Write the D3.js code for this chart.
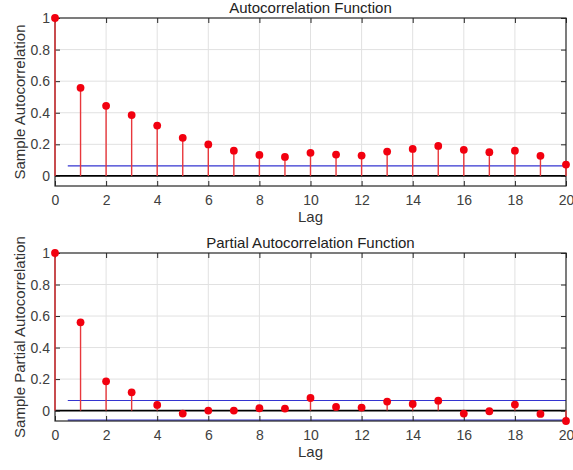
<!DOCTYPE html>
<html>
<head>
<meta charset="utf-8">
<script src="https://cdn.jsdelivr.net/npm/d3@7.9.0/dist/d3.min.js"></script>
<style>
  html, body { margin: 0; padding: 0; background: #fff; }
  svg { display: block; font-family: "Liberation Sans", Arial, sans-serif; }
</style>
</head>
<body>
<svg id="chart" width="573" height="470"></svg>
<script>
// data
const lags = d3.range(0, 21);
const acfValues = [1, 0.558, 0.444, 0.385, 0.319, 0.241, 0.199, 0.160, 0.133, 0.120,
  0.146, 0.135, 0.129, 0.154, 0.171, 0.190, 0.165, 0.150, 0.160, 0.127, 0.072];
const pacfValues = [1, 0.560, 0.186, 0.116, 0.036, -0.019, 0.000, 0.000, 0.015, 0.013,
  0.080, 0.023, 0.019, 0.057, 0.042, 0.063, -0.019, -0.004, 0.038, -0.021, -0.066];
const confBound = 0.064;
const xTicks = [0, 2, 4, 6, 8, 10, 12, 14, 16, 18, 20];
const yTicks = [0, 0.2, 0.4, 0.6, 0.8, 1];
const yTickLabels = ['0', '0.2', '0.4', '0.6', '0.8', '1'];

const svg = d3.select('#chart');

// draw one MATLAB-style stem panel
function drawPanel(values, opts) {
  const left = 55, right = 566;
  const yMin = Math.min(-confBound, d3.min(values));
  const x = d3.scaleLinear().domain([0, 20]).range([left, right]);
  const y = d3.scaleLinear().domain([yMin, 1]).range([opts.bottom, opts.top]);
  const g = svg.append('g');

  // grid
  g.selectAll('.gx').data(xTicks.slice(1, -1)).join('line')
    .attr('x1', d => x(d)).attr('x2', d => x(d))
    .attr('y1', opts.top).attr('y2', opts.bottom)
    .attr('stroke', '#e1e1e1').attr('stroke-width', 1);
  g.selectAll('.gy').data(yTicks.slice(1, -1)).join('line')
    .attr('x1', left).attr('x2', right)
    .attr('y1', d => y(d)).attr('y2', d => y(d))
    .attr('stroke', '#e1e1e1').attr('stroke-width', 1);

  // confidence bounds
  g.append('line')
    .attr('x1', x(0.5)).attr('x2', x(20))
    .attr('y1', y(confBound)).attr('y2', y(confBound))
    .attr('stroke', '#3434d0').attr('stroke-width', 1.2);
  if (opts.showLower) {
    g.append('line')
      .attr('x1', x(0.5)).attr('x2', x(20))
      .attr('y1', y(-confBound) - 0.6).attr('y2', y(-confBound) - 0.6)
      .attr('stroke', '#3434d0').attr('stroke-width', 1.4);
  }

  // zero line
  g.append('line')
    .attr('x1', left).attr('x2', right)
    .attr('y1', y(0)).attr('y2', y(0))
    .attr('stroke', '#000').attr('stroke-width', 1.8);

  // box + ticks
  const axisColor = '#262626';
  g.append('rect')
    .attr('x', left).attr('y', opts.top)
    .attr('width', right - left).attr('height', opts.bottom - opts.top)
    .attr('fill', 'none').attr('stroke', axisColor).attr('stroke-width', 1.2);

  const xAxisB = d3.axisBottom(x).tickValues(xTicks).tickSizeInner(-5).tickSizeOuter(0).tickPadding(9);
  const xAxisT = d3.axisTop(x).tickValues(xTicks).tickSizeInner(-5).tickSizeOuter(0).tickFormat('');
  const yAxisL = d3.axisLeft(y).tickValues(yTicks).tickSizeInner(-5).tickSizeOuter(0).tickPadding(5)
    .tickFormat((d, i) => yTickLabels[i]);
  const yAxisR = d3.axisRight(y).tickValues(yTicks).tickSizeInner(-5).tickSizeOuter(0).tickFormat('');

  [[xAxisB, `translate(0,${opts.bottom})`], [xAxisT, `translate(0,${opts.top})`],
   [yAxisL, `translate(${left},0)`], [yAxisR, `translate(${right},0)`]].forEach(([ax, tr]) => {
    const a = g.append('g').attr('transform', tr).call(ax);
    a.select('.domain').remove();
    a.selectAll('line').attr('stroke', axisColor);
    a.selectAll('text').attr('fill', '#404040').style('font-size', '14px')
      .style('font-family', '"Liberation Sans", Arial, sans-serif');
  });

  // stems and markers
  g.selectAll('.stem').data(lags).join('line')
    .attr('x1', d => x(d)).attr('x2', d => x(d))
    .attr('y1', y(0)).attr('y2', d => y(values[d]))
    .attr('stroke', '#e8383c').attr('stroke-width', 1.4);
  g.selectAll('.dot').data(lags).join('circle')
    .attr('cx', d => x(d)).attr('cy', d => y(values[d]))
    .attr('r', 3.9).attr('fill', '#f2000f');

  // title and labels
  svg.append('text')
    .attr('x', (left + right) / 2).attr('y', opts.top - 5)
    .attr('text-anchor', 'middle').attr('fill', '#222').style('font-size', '15px')
    .text(opts.title);
  svg.append('text')
    .attr('x', (left + right) / 2).attr('y', opts.bottom + 36)
    .attr('text-anchor', 'middle').attr('fill', '#333').style('font-size', '15px')
    .text('Lag');
  svg.append('text')
    .attr('transform', `translate(24.5,${(opts.top + opts.bottom) / 2}) rotate(-90)`)
    .attr('text-anchor', 'middle').attr('fill', '#333').style('font-size', '15px')
    .text(opts.ylabel);
}

drawPanel(acfValues, {
  top: 18, bottom: 186, title: 'Autocorrelation Function',
  ylabel: 'Sample Autocorrelation', showLower: false
});
drawPanel(pacfValues, {
  top: 253, bottom: 421, title: 'Partial Autocorrelation Function',
  ylabel: 'Sample Partial Autocorrelation', showLower: true
});
</script>
</body>
</html>
